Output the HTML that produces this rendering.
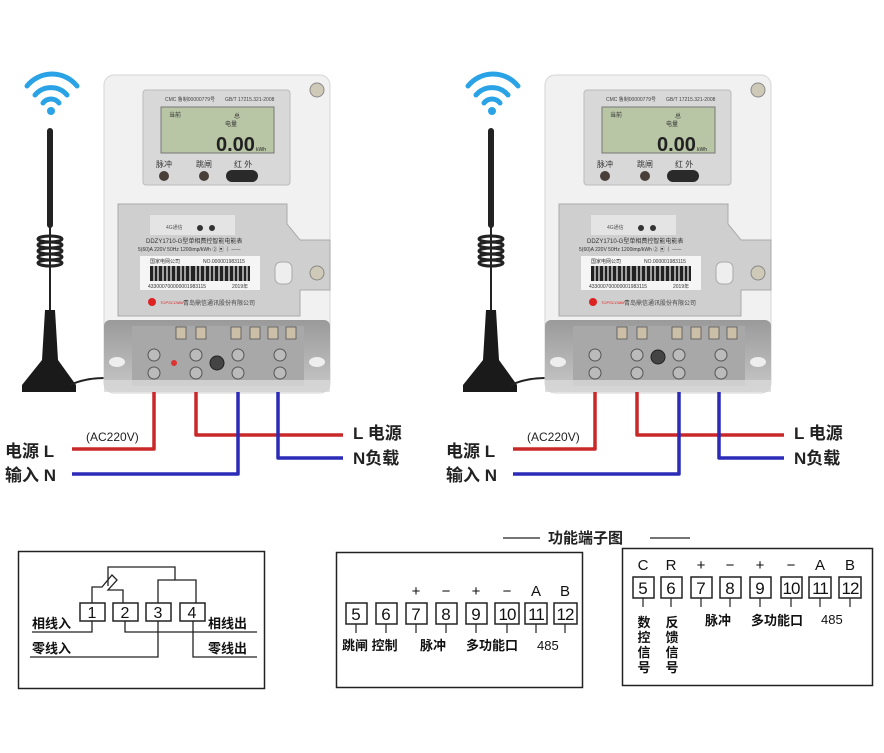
<!DOCTYPE html>
<html><head><meta charset="utf-8"><style>
body{margin:0;background:#fff;}
svg{display:block;font-family:"Liberation Sans","Noto Sans CJK SC",sans-serif;}
</style></head><body>
<svg width="884" height="753" viewBox="0 0 884 753" xmlns="http://www.w3.org/2000/svg">
<defs>
<linearGradient id="tg" x1="0" y1="0" x2="0" y2="1"><stop offset="0" stop-color="#9a9a9a"/><stop offset="1" stop-color="#c8c8c8"/></linearGradient>
</defs>

<!-- ===== METER 1 ===== -->
<g id="m1">
<!-- wifi -->
<path d="M27 86 A32 32 0 0 1 77 86" stroke="#2aa3e6" stroke-width="5" fill="none" stroke-linecap="round"/>
<path d="M35 95 A21 21 0 0 1 67 95" stroke="#2aa3e6" stroke-width="5" fill="none" stroke-linecap="round"/>
<path d="M43 103 A10 10 0 0 1 59 103" stroke="#2aa3e6" stroke-width="5" fill="none" stroke-linecap="round"/>
<circle cx="51" cy="111" r="4" fill="#2aa3e6"/>
<!-- antenna -->
<rect x="47" y="128" width="6" height="100" rx="3" fill="#222"/>
<rect x="49" y="225" width="2" height="100" fill="#222"/>
<g fill="none" stroke="#222" stroke-width="3"><ellipse cx="50" cy="239" rx="12" ry="3"/><ellipse cx="50" cy="245" rx="12" ry="3"/><ellipse cx="50" cy="251" rx="12" ry="3"/><ellipse cx="50" cy="257" rx="12" ry="3"/><ellipse cx="50" cy="263" rx="12" ry="3"/></g>
<path d="M45 310 L55 310 L58 360 L76 385 L76 392 L22 392 L22 385 L42 360 Z" fill="#1a1a1a"/>
<path d="M70 385 Q85 378 104 378" stroke="#222" stroke-width="2" fill="none"/>
<!-- body -->
<rect x="104" y="75" width="226" height="318" rx="10" fill="#f1f1f1" stroke="#d5d5d5"/>
<circle cx="317" cy="90" r="7" fill="#cfc9b8" stroke="#888"/>
<rect x="143" y="90" width="147" height="95" rx="3" fill="#d8d8d8" stroke="#bbb"/>
<text x="165" y="101" font-size="5" fill="#444">CMC 鲁制00000779号</text><text x="225" y="101" font-size="5" fill="#444">GB/T 17215.321-2008</text>
<rect x="161" y="107" width="113" height="46" fill="#b9c6a6" stroke="#777"/>
<text x="169" y="117" font-size="6" fill="#333">当前</text><text x="234" y="118" font-size="6" fill="#333">总</text><text x="225" y="126" font-size="6" fill="#333">电量</text>
<text x="216" y="151" font-size="20" font-weight="bold" fill="#222">0.00</text><text x="256" y="151" font-size="5" fill="#222">kWh</text>
<text x="156" y="167" font-size="8" fill="#333">脉冲</text><text x="196" y="167" font-size="8" fill="#333">跳闸</text><text x="234" y="167" font-size="8" fill="#333">红 外</text>
<circle cx="164" cy="176" r="5" fill="#4a3f38"/><circle cx="204" cy="176" r="5" fill="#4a3f38"/>
<rect x="226" y="170" width="32" height="12" rx="6" fill="#2a2a2a"/>
<!-- cover -->
<path d="M118 204 L287 204 L287 224 L300 240 L330 240 L330 290 L300 290 L300 316 L118 316 Z" fill="#cfcfcf" stroke="#aaa"/>
<rect x="150" y="215" width="85" height="20" fill="#e4e4e4"/>
<text x="166" y="229" font-size="5" fill="#555">4G通信</text><circle cx="200" cy="228" r="3" fill="#333"/><circle cx="212" cy="228" r="3" fill="#333"/>
<text x="146" y="243" font-size="6" fill="#333">DDZY1710-G型单相费控智能电能表</text>
<text x="138" y="251" font-size="5" fill="#333">5(60)A  220V  50Hz  1200imp/kWh ② ▣ ⌇ ─◦─</text>
<rect x="140" y="256" width="120" height="34" fill="#f5f5f5"/>
<text x="150" y="263" font-size="5" fill="#333">国家电网公司</text><text x="203" y="263" font-size="5" fill="#333">NO.000001983115</text>
<rect x="150" y="266" width="100" height="15" fill="#222"/>
<g stroke="#f5f5f5" stroke-width="1.2"><path d="M154 266v15M158 266v15M163 266v15M167 266v15M171 266v15M176 266v15M181 266v15M185 266v15M190 266v15M196 266v15M200 266v15M205 266v15M210 266v15M214 266v15M219 266v15M224 266v15M229 266v15M234 266v15M238 266v15M243 266v15M247 266v15"/></g>
<text x="148" y="288" font-size="5" fill="#333">433000700000001983115</text><text x="232" y="288" font-size="5" fill="#333">2019年</text>
<rect x="275" y="262" width="17" height="22" rx="6" fill="#eee" stroke="#aaa"/>
<circle cx="317" cy="273" r="7" fill="#cfc9b8" stroke="#888"/>
<circle cx="152" cy="302" r="4" fill="#d22"/><text x="160" y="304" font-size="4" font-style="italic" fill="#d22">TOPSCOMM</text><text x="183" y="305" font-size="6" fill="#444">青岛鼎信通讯股份有限公司</text>
<!-- terminal section -->
<rect x="104" y="320" width="226" height="72" rx="6" fill="url(#tg)"/>
<rect x="132" y="326" width="172" height="60" fill="#a8a8a8"/>
<g fill="#cbbfa8" stroke="#555" stroke-width="0.8"><rect x="176" y="327" width="10" height="12"/><rect x="196" y="327" width="10" height="12"/><rect x="231" y="327" width="10" height="12"/><rect x="250" y="327" width="10" height="12"/><rect x="268" y="327" width="10" height="12"/><rect x="286" y="327" width="10" height="12"/></g>
<g fill="#bbb" stroke="#555"><circle cx="154" cy="355" r="6"/><circle cx="154" cy="373" r="6"/><circle cx="196" cy="355" r="6"/><circle cx="196" cy="373" r="6"/><circle cx="238" cy="355" r="6"/><circle cx="238" cy="373" r="6"/><circle cx="280" cy="355" r="6"/><circle cx="280" cy="373" r="6"/></g>
<circle cx="217" cy="363" r="7" fill="#444" stroke="#222"/><circle cx="174" cy="363" r="3" fill="#d33"/>
<ellipse cx="117" cy="362" rx="8" ry="5" fill="#eee"/><ellipse cx="317" cy="362" rx="8" ry="5" fill="#eee"/>
<rect x="104" y="380" width="226" height="12" fill="#d8d8d8" opacity="0.8"/>
<!-- wires -->
<g fill="none" stroke-width="3.5" stroke-linejoin="round">
<path d="M154 392 V449 H72" stroke="#c82828"/>
<path d="M196 392 V435 H343" stroke="#c82828"/>
<path d="M238 392 V474 H72" stroke="#2b2bb8"/>
<path d="M278 392 V458 H343" stroke="#2b2bb8"/>
</g>
<text x="86" y="441" font-size="12" fill="#222">(AC220V)</text>
<text x="5" y="457" font-size="17" font-weight="bold" fill="#222">电源  L</text>
<text x="5" y="481" font-size="17" font-weight="bold" fill="#222">输入  N</text>
<text x="353" y="439" font-size="17" font-weight="bold" fill="#222">L 电源</text>
<text x="353" y="464" font-size="17" font-weight="bold" fill="#222">N负载</text>
</g>

<!-- ===== METER 2 (copy shifted) ===== -->
<g transform="translate(441,0)">
<path d="M27 86 A32 32 0 0 1 77 86" stroke="#2aa3e6" stroke-width="5" fill="none" stroke-linecap="round"/>
<path d="M35 95 A21 21 0 0 1 67 95" stroke="#2aa3e6" stroke-width="5" fill="none" stroke-linecap="round"/>
<path d="M43 103 A10 10 0 0 1 59 103" stroke="#2aa3e6" stroke-width="5" fill="none" stroke-linecap="round"/>
<circle cx="51" cy="111" r="4" fill="#2aa3e6"/>
<rect x="47" y="128" width="6" height="100" rx="3" fill="#222"/>
<rect x="49" y="225" width="2" height="100" fill="#222"/>
<g fill="none" stroke="#222" stroke-width="3"><ellipse cx="50" cy="239" rx="12" ry="3"/><ellipse cx="50" cy="245" rx="12" ry="3"/><ellipse cx="50" cy="251" rx="12" ry="3"/><ellipse cx="50" cy="257" rx="12" ry="3"/><ellipse cx="50" cy="263" rx="12" ry="3"/></g>
<path d="M45 310 L55 310 L58 360 L76 385 L76 392 L22 392 L22 385 L42 360 Z" fill="#1a1a1a"/>
<path d="M70 385 Q85 378 104 378" stroke="#222" stroke-width="2" fill="none"/>
<rect x="104" y="75" width="226" height="318" rx="10" fill="#f1f1f1" stroke="#d5d5d5"/>
<circle cx="317" cy="90" r="7" fill="#cfc9b8" stroke="#888"/>
<rect x="143" y="90" width="147" height="95" rx="3" fill="#d8d8d8" stroke="#bbb"/>
<text x="165" y="101" font-size="5" fill="#444">CMC 鲁制00000779号</text><text x="225" y="101" font-size="5" fill="#444">GB/T 17215.321-2008</text>
<rect x="161" y="107" width="113" height="46" fill="#b9c6a6" stroke="#777"/>
<text x="169" y="117" font-size="6" fill="#333">当前</text><text x="234" y="118" font-size="6" fill="#333">总</text><text x="225" y="126" font-size="6" fill="#333">电量</text>
<text x="216" y="151" font-size="20" font-weight="bold" fill="#222">0.00</text><text x="256" y="151" font-size="5" fill="#222">kWh</text>
<text x="156" y="167" font-size="8" fill="#333">脉冲</text><text x="196" y="167" font-size="8" fill="#333">跳闸</text><text x="234" y="167" font-size="8" fill="#333">红 外</text>
<circle cx="164" cy="176" r="5" fill="#4a3f38"/><circle cx="204" cy="176" r="5" fill="#4a3f38"/>
<rect x="226" y="170" width="32" height="12" rx="6" fill="#2a2a2a"/>
<path d="M118 204 L287 204 L287 224 L300 240 L330 240 L330 290 L300 290 L300 316 L118 316 Z" fill="#cfcfcf" stroke="#aaa"/>
<rect x="150" y="215" width="85" height="20" fill="#e4e4e4"/>
<text x="166" y="229" font-size="5" fill="#555">4G通信</text><circle cx="200" cy="228" r="3" fill="#333"/><circle cx="212" cy="228" r="3" fill="#333"/>
<text x="146" y="243" font-size="6" fill="#333">DDZY1710-G型单相费控智能电能表</text>
<text x="138" y="251" font-size="5" fill="#333">5(60)A  220V  50Hz  1200imp/kWh ② ▣ ⌇ ─◦─</text>
<rect x="140" y="256" width="120" height="34" fill="#f5f5f5"/>
<text x="150" y="263" font-size="5" fill="#333">国家电网公司</text><text x="203" y="263" font-size="5" fill="#333">NO.000001983115</text>
<rect x="150" y="266" width="100" height="15" fill="#222"/>
<g stroke="#f5f5f5" stroke-width="1.2"><path d="M154 266v15M158 266v15M163 266v15M167 266v15M171 266v15M176 266v15M181 266v15M185 266v15M190 266v15M196 266v15M200 266v15M205 266v15M210 266v15M214 266v15M219 266v15M224 266v15M229 266v15M234 266v15M238 266v15M243 266v15M247 266v15"/></g>
<text x="148" y="288" font-size="5" fill="#333">433000700000001983115</text><text x="232" y="288" font-size="5" fill="#333">2019年</text>
<rect x="275" y="262" width="17" height="22" rx="6" fill="#eee" stroke="#aaa"/>
<circle cx="317" cy="273" r="7" fill="#cfc9b8" stroke="#888"/>
<circle cx="152" cy="302" r="4" fill="#d22"/><text x="160" y="304" font-size="4" font-style="italic" fill="#d22">TOPSCOMM</text><text x="183" y="305" font-size="6" fill="#444">青岛鼎信通讯股份有限公司</text>
<rect x="104" y="320" width="226" height="72" rx="6" fill="url(#tg)"/>
<rect x="132" y="326" width="172" height="60" fill="#a8a8a8"/>
<g fill="#cbbfa8" stroke="#555" stroke-width="0.8"><rect x="176" y="327" width="10" height="12"/><rect x="196" y="327" width="10" height="12"/><rect x="231" y="327" width="10" height="12"/><rect x="250" y="327" width="10" height="12"/><rect x="268" y="327" width="10" height="12"/><rect x="286" y="327" width="10" height="12"/></g>
<g fill="#bbb" stroke="#555"><circle cx="154" cy="355" r="6"/><circle cx="154" cy="373" r="6"/><circle cx="196" cy="355" r="6"/><circle cx="196" cy="373" r="6"/><circle cx="238" cy="355" r="6"/><circle cx="238" cy="373" r="6"/><circle cx="280" cy="355" r="6"/><circle cx="280" cy="373" r="6"/></g>
<circle cx="217" cy="357" r="7" fill="#444" stroke="#222"/>
<ellipse cx="117" cy="362" rx="8" ry="5" fill="#eee"/><ellipse cx="317" cy="362" rx="8" ry="5" fill="#eee"/>
<rect x="104" y="380" width="226" height="12" fill="#d8d8d8" opacity="0.8"/>
<g fill="none" stroke-width="3.5" stroke-linejoin="round">
<path d="M154 392 V449 H72" stroke="#c82828"/>
<path d="M196 392 V435 H343" stroke="#c82828"/>
<path d="M238 392 V474 H72" stroke="#2b2bb8"/>
<path d="M278 392 V458 H343" stroke="#2b2bb8"/>
</g>
<text x="86" y="441" font-size="12" fill="#222">(AC220V)</text>
<text x="5" y="457" font-size="17" font-weight="bold" fill="#222">电源  L</text>
<text x="5" y="481" font-size="17" font-weight="bold" fill="#222">输入  N</text>
<text x="353" y="439" font-size="17" font-weight="bold" fill="#222">L 电源</text>
<text x="353" y="464" font-size="17" font-weight="bold" fill="#222">N负载</text>
</g>

<!-- ===== title ===== -->
<line x1="503" y1="538" x2="540" y2="538" stroke="#222" stroke-width="1.2"/>
<text x="548" y="543" font-size="15" font-weight="bold" fill="#222">功能端子图</text>
<line x1="650" y1="538" x2="690" y2="538" stroke="#222" stroke-width="1.2"/>

<!-- ===== box 1 ===== -->
<rect x="18.5" y="551.5" width="246" height="137" fill="#fff" stroke="#222" stroke-width="1.5"/>
<g fill="none" stroke="#222" stroke-width="1.3">
<path d="M108 586 V567 H175 V580 H196 V603"/>
<path d="M92 603 V587 H102 L112 575 L117 580 L108 590 H123 V603"/>
<path d="M158 603 V580 H175"/>
<path d="M32 632 H92 V620"/>
<path d="M125 620 V632 H257"/>
<path d="M30 657 H158 V620"/>
<path d="M193 620 V657 H257"/>
</g>
<g fill="#fff" stroke="#222" stroke-width="1.5"><rect x="80" y="603" width="25" height="18"/><rect x="113" y="603" width="25" height="18"/><rect x="146" y="603" width="25" height="18"/><rect x="180" y="603" width="25" height="18"/></g>
<g font-size="16" text-anchor="middle" fill="#111"><text x="92" y="618">1</text><text x="125" y="618">2</text><text x="158" y="618">3</text><text x="192" y="618">4</text></g>
<g font-size="13" font-weight="bold" fill="#111"><text x="32" y="628">相线入</text><text x="32" y="653">零线入</text><text x="208" y="628">相线出</text><text x="208" y="653">零线出</text></g>

<!-- ===== box 2 ===== -->
<rect x="336.5" y="552.5" width="246" height="135" fill="#fff" stroke="#222" stroke-width="1.5"/>
<g fill="#fff" stroke="#222" stroke-width="1.5">
<rect x="346" y="603" width="21" height="21"/><rect x="376" y="603" width="21" height="21"/><rect x="406" y="603" width="21" height="21"/><rect x="436" y="603" width="21" height="21"/><rect x="466" y="603" width="21" height="21"/><rect x="495" y="603" width="24" height="21"/><rect x="525" y="603" width="22" height="21"/><rect x="554" y="603" width="23" height="21"/></g>
<g stroke="#222" stroke-width="1.2"><path d="M356 624v9M386 624v9M416 624v9M446 624v9M476 624v9M507 624v9M536 624v9M565 624v9"/></g>
<g font-size="17" text-anchor="middle" fill="#111"><text x="356" y="620">5</text><text x="386" y="620">6</text><text x="416" y="620">7</text><text x="446" y="620">8</text><text x="476" y="620">9</text><text x="507" y="620" letter-spacing="-1">10</text><text x="536" y="620" letter-spacing="-1">11</text><text x="565" y="620" letter-spacing="-1">12</text></g>
<g font-size="15" text-anchor="middle" fill="#111"><text x="416" y="596">+</text><text x="446" y="596">−</text><text x="476" y="596">+</text><text x="507" y="596">−</text><text x="536" y="596">A</text><text x="565" y="596">B</text></g>
<g font-size="13" font-weight="bold" fill="#111"><text x="342" y="650">跳闸 控制</text><text x="420" y="650">脉冲</text><text x="466" y="650">多功能口</text></g>
<text x="537" y="650" font-size="13" fill="#111">485</text>

<!-- ===== box 3 ===== -->
<rect x="622.5" y="548.5" width="250" height="137" fill="#fff" stroke="#222" stroke-width="1.5"/>
<g fill="#fff" stroke="#222" stroke-width="1.5">
<rect x="633" y="577" width="21" height="21"/><rect x="661" y="577" width="21" height="21"/><rect x="691" y="577" width="21" height="21"/><rect x="720" y="577" width="21" height="21"/><rect x="750" y="577" width="21" height="21"/><rect x="781" y="577" width="21" height="21"/><rect x="809" y="577" width="22" height="21"/><rect x="839" y="577" width="22" height="21"/></g>
<g stroke="#222" stroke-width="1.2"><path d="M643 598v9M671 598v9M701 598v9M730 598v9M760 598v9M791 598v9M820 598v9M850 598v9"/></g>
<g font-size="17" text-anchor="middle" fill="#111"><text x="643" y="594">5</text><text x="671" y="594">6</text><text x="701" y="594">7</text><text x="730" y="594">8</text><text x="760" y="594">9</text><text x="791" y="594" letter-spacing="-1">10</text><text x="820" y="594" letter-spacing="-1">11</text><text x="850" y="594" letter-spacing="-1">12</text></g>
<g font-size="15" text-anchor="middle" fill="#111"><text x="643" y="570">C</text><text x="671" y="570">R</text><text x="701" y="570">+</text><text x="730" y="570">−</text><text x="760" y="570">+</text><text x="791" y="570">−</text><text x="820" y="570">A</text><text x="850" y="570">B</text></g>
<g font-size="13" font-weight="bold" fill="#111" text-anchor="middle">
<text x="644" y="627">数</text><text x="644" y="642">控</text><text x="644" y="657">信</text><text x="644" y="672">号</text>
<text x="672" y="627">反</text><text x="672" y="642">馈</text><text x="672" y="657">信</text><text x="672" y="672">号</text>
</g>
<g font-size="13" font-weight="bold" fill="#111"><text x="705" y="625">脉冲</text><text x="751" y="625">多功能口</text></g>
<text x="821" y="624" font-size="13" fill="#111">485</text>
</svg>
</body></html>
